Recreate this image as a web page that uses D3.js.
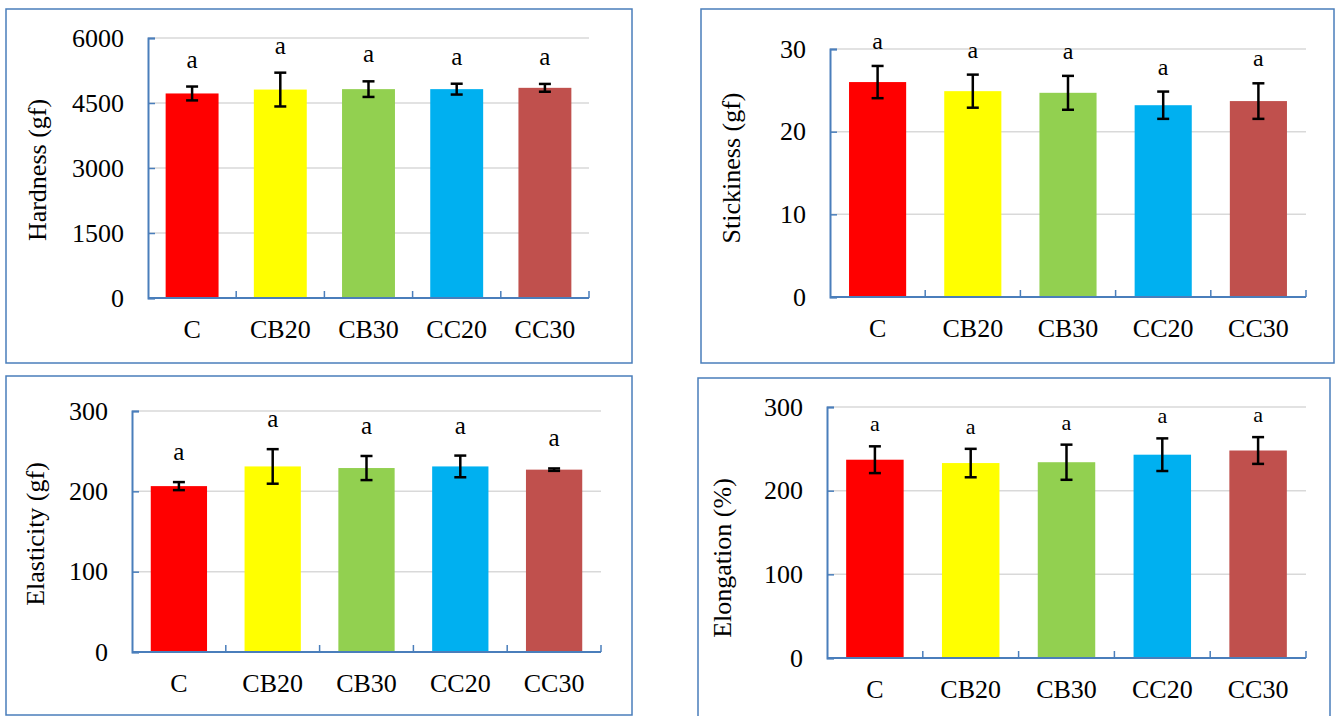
<!DOCTYPE html>
<html>
<head>
<meta charset="utf-8">
<title>Texture profile</title>
<script src="https://cdn.jsdelivr.net/npm/d3@7"></script>
<style>
  body { margin: 0; background: #fff; }
  svg { display: block; }
  text { font-family: "Times New Roman", "Liberation Serif", serif; fill: #000; }
</style>
</head>
<body>
<svg id="chart" width="1338" height="716"></svg>
<script>
// Data
var categories = ['C', 'CB20', 'CB30', 'CC20', 'CC30'];
var barColors = ['#ff0000', '#ffff00', '#92d050', '#00b0f0', '#c0504d'];
var letters = ['a', 'a', 'a', 'a', 'a'];

var hardness = [4720, 4810, 4820, 4820, 4850];
var hardnessErr = [160, 390, 180, 125, 90];
var hardnessTicks = [0, 1500, 3000, 4500, 6000];

var stickiness = [26.0, 24.9, 24.7, 23.2, 23.7];
var stickinessErr = [1.95, 2.0, 2.05, 1.65, 2.15];
var stickinessTicks = [0, 10, 20, 30];

var elasticity = [206.5, 231, 229, 231, 227];
var elasticityErr = [5, 21.5, 15, 13.5, 1.5];
var elasticityTicks = [0, 100, 200, 300];

var elongation = [237, 233, 234, 243, 248];
var elongationErr = [16, 17, 21, 19.5, 16];
var elongationTicks = [0, 100, 200, 300];

var axisBlue = '#4a7ebb';
var svg = d3.select('#chart');

// Draw one panel
function drawPanel(cfg) {
  var g = svg.append('g');

  // Frame
  g.append('rect')
    .attr('x', cfg.frame[0]).attr('y', cfg.frame[1])
    .attr('width', cfg.frame[2]).attr('height', cfg.frame[3])
    .attr('fill', 'none').attr('stroke', axisBlue).attr('stroke-width', 1.5);

  var x = d3.scaleBand()
    .domain(categories)
    .range([cfg.left, cfg.right])
    .paddingInner(0.4)
    .paddingOuter(0.2);

  var y = d3.scaleLinear()
    .domain([0, d3.max(cfg.ticks)])
    .range([cfg.bottom, cfg.top]);

  var rows = categories.map(function(c, i) {
    return { cat: c, value: cfg.values[i], err: cfg.errors[i], color: barColors[i], letter: letters[i] };
  });

  // Gridlines
  g.selectAll('.grid')
    .data(cfg.ticks.filter(function(t) { return t > 0; }))
    .enter().append('line')
    .attr('x1', cfg.left).attr('x2', cfg.right)
    .attr('y1', function(d) { return y(d); })
    .attr('y2', function(d) { return y(d); })
    .attr('stroke', '#d9d9d9').attr('stroke-width', 1.5);

  // Bars
  g.selectAll('.bar')
    .data(rows)
    .enter().append('rect')
    .attr('x', function(d) { return x(d.cat); })
    .attr('y', function(d) { return y(d.value); })
    .attr('width', x.bandwidth())
    .attr('height', function(d) { return y(0) - y(d.value); })
    .attr('fill', function(d) { return d.color; });

  // Y axis, ticks pointing inward
  var yAxis = d3.axisLeft(y).tickValues(cfg.ticks).tickSize(-7).tickFormat(d3.format('d'));
  var yg = g.append('g').attr('transform', 'translate(' + cfg.left + ',0)').call(yAxis);
  yg.attr('font-family', null).attr('font-size', null);
  yg.select('.domain').attr('stroke', axisBlue).attr('stroke-width', 2);
  yg.selectAll('.tick line').attr('stroke', axisBlue).attr('stroke-width', 1.5);
  yg.selectAll('.tick text')
    .attr('x', -24)
    .attr('font-size', 26);

  // X axis line with ticks at band edges pointing up
  var step = x.step();
  g.append('line')
    .attr('x1', cfg.left).attr('x2', cfg.right)
    .attr('y1', cfg.bottom).attr('y2', cfg.bottom)
    .attr('stroke', axisBlue).attr('stroke-width', 2);
  g.selectAll('.xtick')
    .data(d3.range(1, categories.length + 1))
    .enter().append('line')
    .attr('x1', function(i) { return cfg.left + i * step; })
    .attr('x2', function(i) { return cfg.left + i * step; })
    .attr('y1', cfg.bottom).attr('y2', cfg.bottom - 7)
    .attr('stroke', axisBlue).attr('stroke-width', 1.5);

  // Category labels
  g.selectAll('.cat')
    .data(rows)
    .enter().append('text')
    .attr('x', function(d) { return x(d.cat) + x.bandwidth() / 2; })
    .attr('y', cfg.bottom + 40)
    .attr('text-anchor', 'middle')
    .attr('font-size', 26)
    .text(function(d) { return d.cat; });

  // Error bars
  var eb = g.selectAll('.err')
    .data(rows)
    .enter().append('g')
    .attr('stroke', '#000').attr('stroke-width', 2.5);
  eb.append('line')
    .attr('x1', function(d) { return x(d.cat) + x.bandwidth() / 2; })
    .attr('x2', function(d) { return x(d.cat) + x.bandwidth() / 2; })
    .attr('y1', function(d) { return y(d.value + d.err); })
    .attr('y2', function(d) { return y(d.value - d.err); });
  eb.append('line')
    .attr('x1', function(d) { return x(d.cat) + x.bandwidth() / 2 - 6; })
    .attr('x2', function(d) { return x(d.cat) + x.bandwidth() / 2 + 6; })
    .attr('y1', function(d) { return y(d.value + d.err); })
    .attr('y2', function(d) { return y(d.value + d.err); });
  eb.append('line')
    .attr('x1', function(d) { return x(d.cat) + x.bandwidth() / 2 - 6; })
    .attr('x2', function(d) { return x(d.cat) + x.bandwidth() / 2 + 6; })
    .attr('y1', function(d) { return y(d.value - d.err); })
    .attr('y2', function(d) { return y(d.value - d.err); });

  // Significance letters
  g.selectAll('.letter')
    .data(rows)
    .enter().append('text')
    .attr('x', function(d) { return x(d.cat) + x.bandwidth() / 2; })
    .attr('y', function(d) { return y(d.value + d.err) - cfg.letterGap; })
    .attr('text-anchor', 'middle')
    .attr('font-size', cfg.letterSize)
    .text(function(d) { return d.letter; });

  // Y title
  g.append('text')
    .attr('transform', 'translate(' + cfg.titleX + ',' + cfg.titleY + ') rotate(-90)')
    .attr('text-anchor', 'middle')
    .attr('dominant-baseline', 'central')
    .attr('font-size', 26)
    .text(cfg.title);
}

drawPanel({
  frame: [6, 9, 626, 354], left: 148, right: 589, top: 38, bottom: 298,
  values: hardness, errors: hardnessErr, ticks: hardnessTicks,
  title: 'Hardness (gf)', titleX: 37, titleY: 170, letterGap: 19, letterSize: 25
});

drawPanel({
  frame: [701, 9, 633, 354], left: 830, right: 1306, top: 49, bottom: 297,
  values: stickiness, errors: stickinessErr, ticks: stickinessTicks,
  title: 'Stickiness (gf)', titleX: 731, titleY: 168, letterGap: 17, letterSize: 24
});

drawPanel({
  frame: [6, 376, 626, 339], left: 132, right: 601, top: 411, bottom: 652,
  values: elasticity, errors: elasticityErr, ticks: elasticityTicks,
  title: 'Elasticity (gf)', titleX: 35, titleY: 534, letterGap: 22, letterSize: 25
});

drawPanel({
  frame: [698, 378, 632, 360], left: 827, right: 1306, top: 407, bottom: 658,
  values: elongation, errors: elongationErr, ticks: elongationTicks,
  title: 'Elongation (%)', titleX: 722, titleY: 558, letterGap: 15, letterSize: 22
});
</script>
</body>
</html>
